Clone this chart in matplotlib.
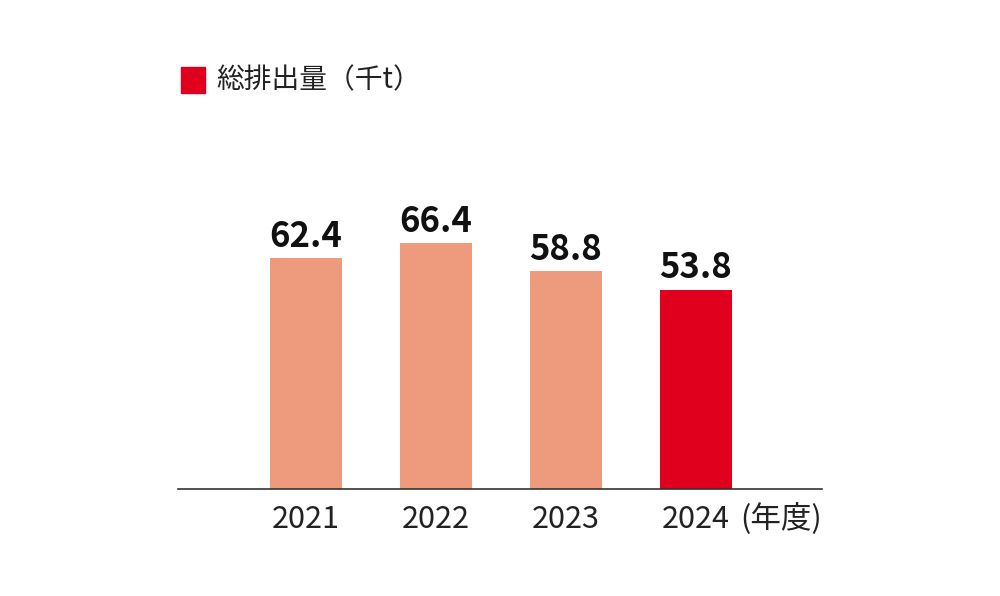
import matplotlib.pyplot as plt
from matplotlib.patches import Rectangle

plt.rcParams['font.family'] = ['Noto Sans CJK JP', 'DejaVu Sans']

years = ['2021', '2022', '2023', '2024']
values = [62.4, 66.4, 58.8, 53.8]
colors = ['#EE9B7D', '#EE9B7D', '#EE9B7D', '#E0001E']

fig = plt.figure(figsize=(10, 5.96), dpi=100)
# axes placed in pixel terms: left 178, right 822, baseline y=489, top y=100
ax = fig.add_axes([178 / 1000, 1 - 489 / 596, 644 / 1000, 389 / 596])

x = range(len(years))
bars = ax.bar(x, values, width=72 / 130, color=colors)
ax.set_xlim(-128 / 130, 516 / 130)
ax.set_ylim(0, 389 / 3.70)

for xi, v in zip(x, values):
    ax.text(xi, v + 1.2, f'{v}', ha='center', va='bottom',
            fontsize=25, fontweight='bold', color='#111111')

for s in ['top', 'right', 'left']:
    ax.spines[s].set_visible(False)
ax.spines['bottom'].set_color('#333333')
ax.spines['bottom'].set_linewidth(1.2)
ax.set_yticks([])
ax.set_xticks(list(x))
ax.set_xticklabels(years, fontsize=22, color='#222222')
ax.tick_params(axis='x', length=0, pad=11)

ax.text(3.97, -8.0, '(年度)', ha='right', va='center', fontsize=22,
        color='#222222')

# legend marker and label
fig.patches.append(Rectangle((181 / 1000, 1 - 93 / 596), 24 / 1000, 26 / 596,
                             transform=fig.transFigure, color='#E0001E'))
fig.text(216 / 1000, 1 - 80 / 596, '総排出量（千t）', ha='left', va='center',
         fontsize=20, color='#222222')

fig.savefig('out.png', dpi=100)
